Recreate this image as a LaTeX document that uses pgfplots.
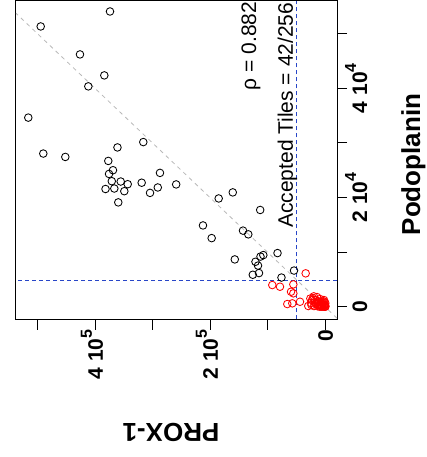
\documentclass[border=0pt]{standalone}
\usepackage{fontspec}
\setmainfont{Liberation Sans}
\usepackage{pgfplots}
\usepackage{pgfplotstable}
\pgfplotsset{compat=1.18}

\definecolor{threshblue}{RGB}{40,70,200}
\definecolor{fitgray}{RGB}{185,185,185}

% superscript exponent for tick labels
\newcommand{\ex}[1]{\raisebox{11pt}{\fontsize{16}{16}\selectfont #1}}

% accepted tiles (PROX-1, Podoplanin)
\pgfplotstableread{
prox pod
374400 54050
494900 51310
426600 46190
384300 42350
412100 40340
516500 34620
490400 28040
452100 27420
361400 29160
316500 30140
377400 26690
369200 24990
376100 24310
371300 22980
355800 22920
343600 22430
382200 21550
366900 21640
349500 21150
360000 19100
319300 22700
304800 20840
291300 21830
287500 24500
259300 22390
185400 19820
160900 20930
113200 17710
212700 14880
197600 12560
143100 13930
133900 13250
157400 8660
107800 9450
121400 8230
117000 7530
83100 9820
126100 5850
115300 6160
76200 5340
54400 6620
112700 9180
}\accepted

% rejected tiles
\pgfplotstableread{
prox pod
34100 6110
92200 3970
78800 3660
55600 4090
59600 2740
55600 2450
66100 490
57400 620
44000 910
29600 130
21400 1590
17900 1220
14400 1770
12700 1040
16200 490
11000 310
9200 1410
7500 860
5700 130
4000 680
2300 1220
500 310
500 0
0 130
0 0
2300 0
5700 0
9200 0
12700 50
14400 680
4000 490
0 680
7500 130
11000 860
17900 860
23100 1220
24900 680
19700 130
1000 310
3000 200
6000 400
8000 250
1500 900
3500 1000
26000 1500
20000 1900
13000 300
24000 300
}\rejected

\begin{document}
\begin{tikzpicture}
\useasboundingbox (-16pt,-137.5pt) rectangle (411pt,319.5pt);
\begin{axis}[
  at={(0,0)}, anchor=south west,
  scale only axis, width=321pt, height=318.5pt,
  x dir=reverse,
  xmin=-20350, xmax=537870, ymin=-2340, ymax=55970,
  axis line style={line width=1pt},
  every tick/.style={line width=1pt, black},
  tick align=outside, major tick length=10pt,
  xtick pos=bottom, ytick pos=right,
  xtick={0,100000,200000,300000,400000,500000},
  xticklabels={0,,2 10\ex{5},,4 10\ex{5},},
  ytick={0,10000,20000,30000,40000,50000},
  yticklabels={0,,2 10\ex{4},,4 10\ex{4},},
  xticklabel style={rotate=90, anchor=east, inner sep=0pt,
    text height=15pt, text depth=0pt,
    font=\fontsize{21}{21}\selectfont\bfseries},
  yticklabel style={rotate=90, anchor=north, inner sep=0pt,
    text height=15pt, text depth=0pt,
    font=\fontsize{21}{21}\selectfont\bfseries},
  yticklabel shift=5pt,
  scaled ticks=false,
  clip=true,
]
\addplot[only marks, mark=o, mark size=3.8pt, mark options={line width=0.85pt, black}]
  table[x=prox, y=pod] {\accepted};
\addplot[only marks, mark=o, mark size=3.8pt, mark options={line width=0.85pt, red}]
  table[x=prox, y=pod] {\rejected};
% fitted trend
\addplot[fitgray, line width=0.8pt, dash pattern=on 4pt off 4pt]
  coordinates {(-20350,-2105) (537870,53720)};
% acceptance thresholds
\addplot[threshblue, line width=0.9pt, dash pattern=on 4pt off 3pt]
  coordinates {(50000,-2340) (50000,55970)};
\addplot[threshblue, line width=0.9pt, dash pattern=on 4pt off 3pt]
  coordinates {(-20350,4750) (537870,4750)};
\node[rotate=90, anchor=base east, inner sep=0pt, font=\fontsize{21}{21}\selectfont]
  at (axis cs:120500,55880) {ρ = 0.882};
\node[rotate=90, anchor=base east, inner sep=0pt, font=\fontsize{21}{21}\selectfont]
  at (axis cs:56200,55700) {Accepted Tiles = 42/256};
\end{axis}
\node[rotate=90, anchor=base, inner sep=0pt, font=\fontsize{26}{26}\selectfont\bfseries]
  at (404pt,155pt) {Podoplanin};
\node[rotate=180, anchor=base, inner sep=0pt, font=\fontsize{26}{26}\selectfont\bfseries]
  at (155pt,-103.5pt) {PROX-1};
\end{tikzpicture}
\end{document}
